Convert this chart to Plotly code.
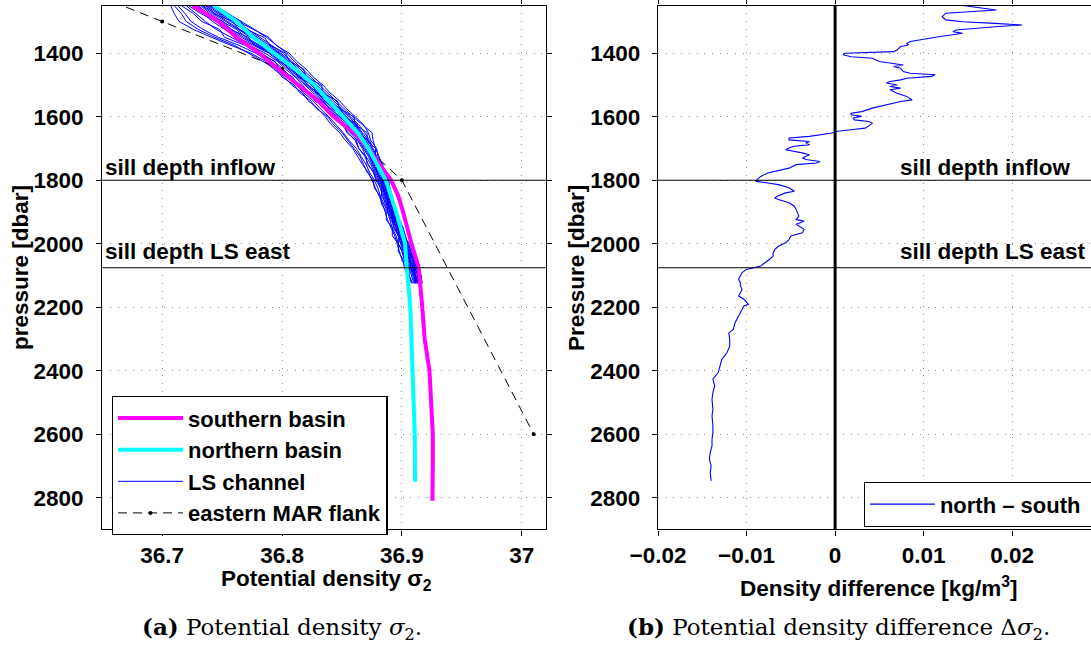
import plotly.graph_objects as go

# ---------------- data: left panel ----------------
p_south = [1250, 1300, 1350, 1400, 1450, 1500, 1550, 1600, 1650, 1700, 1750, 1800, 1850,
           1900, 2000, 2075, 2200, 2300, 2400, 2500, 2600, 2700, 2810]
sig_south = [36.7255, 36.747, 36.762, 36.781, 36.797, 36.814, 36.830, 36.843, 36.860, 36.872,
             36.882, 36.891, 36.897, 36.901, 36.908, 36.914, 36.917, 36.919, 36.923, 36.924,
             36.9258, 36.9258, 36.9255]

p_north = [1250, 1300, 1350, 1400, 1450, 1500, 1550, 1600, 1650, 1700, 1750, 1800, 1900,
           2000, 2075, 2200, 2300, 2400, 2500, 2600, 2750]
sig_north = [36.743, 36.762, 36.776, 36.794, 36.811, 36.827, 36.839, 36.850, 36.863, 36.872,
             36.879, 36.8866, 36.8952, 36.9027, 36.904, 36.907, 36.908, 36.909, 36.910,
             36.9107, 36.911]

p_ls = [1250, 1275, 1300, 1325, 1350, 1375, 1400, 1425, 1450, 1475, 1500, 1525, 1550, 1575,
        1600, 1625, 1650, 1675, 1700, 1725, 1750, 1775, 1800, 1825, 1850, 1875, 1900, 1925,
        1950, 1975, 2000, 2025, 2050, 2075, 2100, 2125]
ls_01 = [36.707, 36.710, 36.714, 36.726, 36.741, 36.757, 36.774, 36.786, 36.793, 36.802,
         36.808, 36.817, 36.822, 36.830, 36.836, 36.841, 36.848, 36.853, 36.859, 36.863,
         36.867, 36.872, 36.875, 36.878, 36.881, 36.884, 36.886, 36.888, 36.891, 36.894,
         36.896, 36.898, 36.900, 36.903, 36.904, 36.906]
ls_02 = [36.713, 36.719, 36.724, 36.734, 36.747, 36.764, 36.778, 36.789, 36.797, 36.804,
         36.812, 36.818, 36.826, 36.832, 36.839, 36.845, 36.851, 36.856, 36.862, 36.866,
         36.870, 36.873, 36.877, 36.880, 36.882, 36.885, 36.888, 36.890, 36.892, 36.895,
         36.897, 36.900, 36.902, 36.904, 36.906, 36.908]
ls_03 = [36.720, 36.728, 36.736, 36.745, 36.757, 36.770, 36.783, 36.793, 36.801, 36.807,
         36.815, 36.822, 36.828, 36.837, 36.843, 36.850, 36.855, 36.861, 36.864, 36.869,
         36.872, 36.876, 36.879, 36.882, 36.884, 36.886, 36.889, 36.891, 36.894, 36.897,
         36.899, 36.901, 36.904, 36.906, 36.908, 36.910]
ls_04 = [36.726, 36.734, 36.742, 36.752, 36.763, 36.776, 36.789, 36.797, 36.805, 36.812,
         36.819, 36.826, 36.833, 36.840, 36.847, 36.853, 36.859, 36.864, 36.868, 36.872,
         36.875, 36.878, 36.881, 36.884, 36.886, 36.888, 36.890, 36.893, 36.896, 36.898,
         36.900, 36.903, 36.906, 36.908, 36.910, 36.911]
ls_05 = [36.730, 36.738, 36.748, 36.758, 36.768, 36.780, 36.792, 36.800, 36.808, 36.815,
         36.822, 36.829, 36.836, 36.843, 36.850, 36.856, 36.861, 36.866, 36.870, 36.874,
         36.876, 36.880, 36.882, 36.885, 36.887, 36.889, 36.891, 36.894, 36.897, 36.899,
         36.901, 36.904, 36.907, 36.909, 36.911, 36.912]
ls_06 = [36.733, 36.742, 36.753, 36.763, 36.773, 36.784, 36.795, 36.803, 36.810, 36.817,
         36.824, 36.831, 36.838, 36.845, 36.852, 36.859, 36.864, 36.868, 36.872, 36.876,
         36.878, 36.881, 36.884, 36.886, 36.888, 36.890, 36.892, 36.895, 36.898, 36.900,
         36.902, 36.905, 36.908, 36.910, 36.912, 36.913]
ls_07 = [36.736, 36.746, 36.757, 36.768, 36.777, 36.787, 36.798, 36.805, 36.812, 36.819,
         36.827, 36.834, 36.840, 36.847, 36.854, 36.861, 36.866, 36.870, 36.874, 36.877,
         36.880, 36.883, 36.885, 36.887, 36.889, 36.891, 36.893, 36.896, 36.899, 36.901,
         36.903, 36.906, 36.909, 36.911, 36.913, 36.914]
ls_08 = [36.740, 36.750, 36.762, 36.772, 36.782, 36.791, 36.801, 36.808, 36.815, 36.822,
         36.829, 36.836, 36.843, 36.850, 36.857, 36.864, 36.869, 36.873, 36.876, 36.879,
         36.882, 36.885, 36.887, 36.889, 36.890, 36.892, 36.894, 36.897, 36.900, 36.902,
         36.904, 36.908, 36.911, 36.913, 36.914, 36.915]
ls_09 = [36.744, 36.755, 36.767, 36.777, 36.787, 36.796, 36.804, 36.810, 36.817, 36.824,
         36.831, 36.838, 36.845, 36.852, 36.859, 36.867, 36.875, 36.876, 36.878, 36.881,
         36.883, 36.886, 36.888, 36.890, 36.891, 36.893, 36.895, 36.898, 36.901, 36.903,
         36.905, 36.909, 36.912, 36.914, 36.916, 36.917]
ls_10 = [36.722, 36.732, 36.745, 36.755, 36.760, 36.773, 36.786, 36.796, 36.803, 36.811,
         36.817, 36.823, 36.832, 36.838, 36.846, 36.851, 36.857, 36.863, 36.867, 36.870,
         36.874, 36.877, 36.880, 36.883, 36.885, 36.887, 36.890, 36.892, 36.895, 36.897,
         36.899, 36.902, 36.905, 36.907, 36.909, 36.911]
ls_11 = [36.732, 36.740, 36.750, 36.762, 36.770, 36.782, 36.793, 36.802, 36.807, 36.816,
         36.821, 36.830, 36.835, 36.844, 36.849, 36.857, 36.863, 36.867, 36.871, 36.874,
         36.877, 36.879, 36.883, 36.885, 36.888, 36.889, 36.892, 36.894, 36.897, 36.900,
         36.902, 36.904, 36.907, 36.909, 36.911, 36.913]
ls_12 = [36.734, 36.744, 36.755, 36.765, 36.775, 36.786, 36.796, 36.805, 36.811, 36.818,
         36.825, 36.833, 36.839, 36.846, 36.853, 36.860, 36.865, 36.869, 36.873, 36.877,
         36.879, 36.882, 36.884, 36.886, 36.889, 36.891, 36.893, 36.895, 36.898, 36.901,
         36.903, 36.906, 36.909, 36.911, 36.913, 36.914]
ls_13 = [36.728, 36.737, 36.745, 36.756, 36.766, 36.778, 36.790, 36.799, 36.806, 36.814,
         36.820, 36.828, 36.834, 36.841, 36.848, 36.855, 36.860, 36.865, 36.869, 36.873,
         36.876, 36.879, 36.882, 36.884, 36.886, 36.889, 36.891, 36.893, 36.896, 36.898,
         36.901, 36.903, 36.906, 36.908, 36.910, 36.912]
ls_14 = [36.738, 36.748, 36.760, 36.770, 36.780, 36.789, 36.799, 36.807, 36.813, 36.821,
         36.828, 36.835, 36.841, 36.848, 36.856, 36.862, 36.867, 36.872, 36.875, 36.878,
         36.881, 36.884, 36.886, 36.888, 36.890, 36.892, 36.894, 36.896, 36.899, 36.902,
         36.904, 36.907, 36.910, 36.912, 36.914, 36.915]
ls_15 = [36.739, 36.752, 36.763, 36.776, 36.789, 36.795, 36.806, 36.812, 36.820, 36.826,
         36.834, 36.840, 36.848, 36.854, 36.861, 36.868, 36.872, 36.874, 36.879, 36.880,
         36.884, 36.885, 36.889, 36.890, 36.892, 36.893, 36.896, 36.897, 36.901, 36.902,
         36.906, 36.907, 36.911, 36.912, 36.916, 36.916]
ls_16 = [36.716, 36.726, 36.733, 36.748, 36.752, 36.769, 36.780, 36.794, 36.798, 36.809,
         36.813, 36.824, 36.827, 36.839, 36.842, 36.852, 36.854, 36.862, 36.864, 36.870,
         36.871, 36.877, 36.878, 36.883, 36.883, 36.888, 36.888, 36.892, 36.893, 36.897,
         36.897, 36.901, 36.902, 36.906, 36.906, 36.909]
ls_17 = [36.729, 36.736, 36.751, 36.757, 36.772, 36.777, 36.794, 36.797, 36.810, 36.813,
         36.826, 36.828, 36.839, 36.842, 36.852, 36.855, 36.864, 36.865, 36.872, 36.873,
         36.879, 36.879, 36.884, 36.884, 36.888, 36.888, 36.892, 36.892, 36.897, 36.897,
         36.902, 36.902, 36.907, 36.907, 36.911, 36.911]
ls_18 = [36.742, 36.749, 36.766, 36.770, 36.785, 36.790, 36.803, 36.806, 36.818, 36.820,
         36.833, 36.834, 36.846, 36.848, 36.860, 36.861, 36.871, 36.871, 36.878, 36.878,
         36.884, 36.883, 36.888, 36.887, 36.891, 36.890, 36.895, 36.894, 36.900, 36.899,
         36.905, 36.904, 36.910, 36.909, 36.915, 36.914]
ls_19 = [36.710, 36.716, 36.720, 36.730, 36.744, 36.760, 36.772, 36.784, 36.795, 36.800,
         36.810, 36.815, 36.824, 36.829, 36.838, 36.843, 36.850, 36.855, 36.860, 36.865,
         36.868, 36.871, 36.876, 36.877, 36.882, 36.883, 36.887, 36.887, 36.892, 36.892,
         36.897, 36.897, 36.901, 36.902, 36.905, 36.905]
ls_20 = [36.737, 36.743, 36.759, 36.764, 36.779, 36.784, 36.797, 36.804, 36.809, 36.820,
         36.824, 36.834, 36.837, 36.849, 36.851, 36.863, 36.863, 36.872, 36.871, 36.878,
         36.877, 36.884, 36.883, 36.887, 36.887, 36.891, 36.890, 36.895, 36.895, 36.900,
         36.900, 36.905, 36.906, 36.910, 36.911, 36.914]
ls_lines = [ls_01, ls_02, ls_03, ls_04, ls_05, ls_06, ls_07, ls_08, ls_09, ls_10, ls_11,
            ls_12, ls_13, ls_14, ls_15, ls_16, ls_17, ls_18, ls_19, ls_20]

p_mar = [1150, 1300, 1450, 1800, 2600]
sig_mar = [36.60, 36.70, 36.80, 36.90, 37.01]

sill_inflow = 1800
sill_ls_east = 2076

# ---------------- data: right panel (north - south) ----------------
p_diff = [1248, 1255, 1264, 1274, 1280, 1285, 1295, 1301, 1306, 1311, 1316, 1321, 1327, 1332,
          1337, 1348, 1353, 1358, 1363, 1369, 1374, 1379, 1390, 1395, 1400, 1405, 1411, 1416,
          1426, 1437, 1442, 1447, 1458, 1463, 1468, 1473, 1479, 1484, 1489, 1494, 1500, 1505,
          1510, 1515, 1526, 1536, 1547, 1552, 1563, 1567, 1573, 1584, 1589, 1594, 1599, 1604,
          1610, 1615, 1620, 1625, 1636, 1641, 1646, 1652, 1657, 1662, 1667, 1673, 1678, 1683,
          1688, 1694, 1704, 1709, 1714, 1720, 1730, 1735, 1741, 1746, 1751, 1762, 1772, 1777,
          1788, 1798, 1803, 1809, 1814, 1824, 1835, 1840, 1851, 1856, 1861, 1871, 1882, 1892,
          1903, 1913, 1924, 1929, 1939, 1955, 1966, 1976, 1987, 1997, 2008, 2018, 2029, 2039,
          2049, 2060, 2070, 2076, 2081, 2091, 2112, 2123, 2133, 2144, 2154, 2165, 2175, 2186,
          2191, 2196, 2207, 2228, 2249, 2270, 2281, 2302, 2323, 2343, 2365, 2386, 2406, 2427,
          2448, 2469, 2490, 2522, 2543, 2574, 2595, 2616, 2637, 2658, 2679, 2700, 2721, 2747]
d_diff = [0.0140, 0.0160, 0.0182, 0.0125, 0.0123, 0.0121, 0.0125, 0.0144, 0.0180, 0.0211,
          0.0184, 0.0164, 0.0137, 0.0133, 0.0144, 0.0117, 0.0105, 0.0093, 0.0085, 0.0081,
          0.0083, 0.0074, 0.0070, 0.0066, 0.0011, 0.0009, 0.0018, 0.0042, 0.0050, 0.0077,
          0.0066, 0.0074, 0.0077, 0.0085, 0.0113, 0.0109, 0.0081, 0.0074, 0.0062, 0.0058,
          0.0070, 0.0062, 0.0074, 0.0062, 0.0070, 0.0081, 0.0087, 0.0074, 0.0058, 0.0050,
          0.0042, 0.0030, 0.0018, 0.0018, 0.0030, 0.0020, 0.0022, 0.0038, 0.0042, 0.0040,
          0.0034, 0.0018, 0.0003, -0.0005, -0.0017, -0.0029, -0.0052, -0.0052, -0.0029, -0.0033,
          -0.0029, -0.0048, -0.0056, -0.0044, -0.0037, -0.0029, -0.0037, -0.0033, -0.0017, -0.0021,
          -0.0044, -0.0052, -0.0068, -0.0076, -0.0084, -0.0088, -0.0090, -0.0076, -0.0064, -0.0052,
          -0.0046, -0.0056, -0.0066, -0.0068, -0.0064, -0.0052, -0.0046, -0.0044, -0.0042, -0.0041,
          -0.0044, -0.0035, -0.0044, -0.0035, -0.0037, -0.0050, -0.0052, -0.0056, -0.0064, -0.0068,
          -0.0070, -0.0070, -0.0074, -0.0080, -0.0084, -0.0092, -0.0100, -0.0105, -0.0109, -0.0107,
          -0.0107, -0.0105, -0.0107, -0.0109, -0.0103, -0.0100, -0.0098, -0.0103, -0.0105, -0.0109,
          -0.0113, -0.0115, -0.0120, -0.0119, -0.0119, -0.0122, -0.0128, -0.0130, -0.0132, -0.0138,
          -0.0136, -0.0138, -0.0139, -0.0138, -0.0139, -0.0138, -0.0138, -0.0139, -0.0139, -0.0141,
          -0.0142, -0.0140, -0.0141, -0.0140]

# ---------------- figure ----------------
FONT = "Liberation Sans, Arial, Helvetica, sans-serif"
SERIF = "DejaVu Serif, Liberation Serif, serif"
W, H = 1091, 646
FS = 22.5

fig = go.Figure()

for k, ls in enumerate(ls_lines):
    fig.add_trace(go.Scatter(x=ls, y=p_ls, mode="lines", line=dict(color="#0000ff", width=1),
                             name="LS channel", legendgroup="ls", showlegend=(k == 0),
                             legendrank=3, xaxis="x", yaxis="y"))
fig.add_trace(go.Scatter(x=sig_mar, y=p_mar, mode="lines+markers", name="eastern MAR flank",
                         line=dict(color="black", width=1, dash="9px,6px"),
                         marker=dict(color="black", size=4), legendrank=4, xaxis="x", yaxis="y"))
fig.add_trace(go.Scatter(x=sig_south, y=p_south, mode="lines", name="southern basin",
                         line=dict(color="#ff00ff", width=4), legendrank=1, xaxis="x", yaxis="y"))
fig.add_trace(go.Scatter(x=sig_north, y=p_north, mode="lines", name="northern basin",
                         line=dict(color="#00ffff", width=4), legendrank=2, xaxis="x", yaxis="y"))

fig.add_trace(go.Scatter(x=d_diff, y=p_diff, mode="lines", name="north \u2013 south",
                         line=dict(color="#0000ff", width=1.1), legend="legend2",
                         xaxis="x2", yaxis="y2"))

y_dom = [1 - 529.4 / H, 1 - 5.6 / H]
axis_common = dict(showline=True, linecolor="black", linewidth=1.3, ticks="outside",
                   ticklen=5, tickwidth=1.2, tickcolor="black", showgrid=True,
                   gridcolor="#8a8a8a", gridwidth=1, griddash="1px,6.7px", zeroline=False,
                   tickfont=dict(size=FS, family=FONT, weight="bold", color="black"))

fig.update_layout(
    width=W, height=H, margin=dict(l=0, r=0, t=0, b=0, autoexpand=False),
    paper_bgcolor="white", plot_bgcolor="white",
    font=dict(family=FONT, size=FS, color="black", weight="bold"),
    xaxis=dict(domain=[102.3 / W, 545.7 / W], range=[36.65, 37.02], dtick=0.1, tick0=36.7,
               mirror="ticks", anchor="y", ticklabelstandoff=0, **axis_common),
    yaxis=dict(domain=y_dom, range=[2900, 1250], dtick=200, tick0=1400, mirror="ticks",
               anchor="x", ticklabelstandoff=8, **axis_common),
    xaxis2=dict(domain=[658.0 / W, 1.0], range=[-0.02, 0.0289], dtick=0.01, tick0=0,
                mirror="ticks", anchor="y2", ticklabelstandoff=0, **axis_common),
    yaxis2=dict(domain=y_dom, range=[2900, 1250], dtick=200, tick0=1400, mirror=False,
                anchor="x2", ticklabelstandoff=7, **axis_common),
    legend=dict(x=111.7 / W, y=1 - 396 / H, xanchor="left", yanchor="top", bgcolor="white",
                bordercolor="black", borderwidth=1.3, itemwidth=65, tracegroupgap=0,
                font=dict(size=22, family=FONT, weight="bold")),
    legend2=dict(x=863.6 / W, y=1 - 482 / H, xanchor="left", yanchor="top", bgcolor="white",
                 bordercolor="black", borderwidth=1.3, itemwidth=65, orientation="h",
                 entrywidth=260, font=dict(size=22, family=FONT, weight="bold")),
    showlegend=True,
)

# zero line in right panel
fig.add_shape(type="line", xref="x2", yref="y2 domain", x0=0, x1=0, y0=0, y1=1,
              line=dict(color="black", width=3))
# sill depth lines
for xr in ["x domain", "x2 domain"]:
    yr = "y" if xr == "x domain" else "y2"
    for yv in [sill_inflow, sill_ls_east]:
        fig.add_shape(type="line", xref=xr, yref=yr, x0=0, x1=1, y0=yv, y1=yv,
                      line=dict(color="black", width=1.1))

# sill annotations
for xr, xv in [("x domain", 0.002), ("x2", 0.00705)]:
    yr = "y" if xr == "x domain" else "y2"
    fig.add_annotation(text="sill depth inflow", xref=xr, yref=yr, x=xv, y=sill_inflow,
                       xanchor="left", yanchor="bottom", showarrow=False, yshift=-2,
                       font=dict(size=FS, family=FONT, weight="bold"))
    fig.add_annotation(text="sill depth LS east", xref=xr, yref=yr, x=xv, y=sill_ls_east,
                       xanchor="left", yanchor="bottom", showarrow=False, yshift=2,
                       font=dict(size=FS, family=FONT, weight="bold"))

# axis titles
fig.add_annotation(text="Potential density \u03c3<sub>2</sub>", xref="paper", yref="paper",
                   x=326.7 / W, y=1 - 580 / H, xanchor="center", yanchor="middle",
                   showarrow=False, font=dict(size=FS, family=FONT, weight="bold"))
fig.add_annotation(text="Density difference [kg/m<sup>3</sup>]", xref="x2", yref="paper",
                   x=0.005, y=1 - 587 / H, xanchor="center", yanchor="middle",
                   showarrow=False, font=dict(size=FS, family=FONT, weight="bold"))
fig.add_annotation(text="pressure [dbar]", xref="paper", yref="paper", x=20 / W,
                   y=1 - 268 / H, xanchor="center", yanchor="middle", textangle=-90,
                   showarrow=False, font=dict(size=FS, family=FONT, weight="bold"))
fig.add_annotation(text="Pressure [dbar]", xref="paper", yref="paper", x=576 / W,
                   y=1 - 268 / H, xanchor="center", yanchor="middle", textangle=-90,
                   showarrow=False, font=dict(size=FS, family=FONT, weight="bold"))

# captions
fig.add_annotation(text="<b>(a)</b> Potential density <i>\u03c3</i><sub>2</sub>.", xref="paper",
                   yref="paper", x=282 / W, y=1 - 628 / H, xanchor="center", yanchor="middle",
                   showarrow=False, font=dict(size=23, family=SERIF, weight="normal"))
fig.add_annotation(text="<b>(b)</b> Potential density difference \u0394<i>\u03c3</i><sub>2</sub>.",
                   xref="paper", yref="paper", x=838 / W, y=1 - 628 / H, xanchor="center",
                   yanchor="middle", showarrow=False,
                   font=dict(size=23, family=SERIF, weight="normal"))

fig.write_html("out.html")
